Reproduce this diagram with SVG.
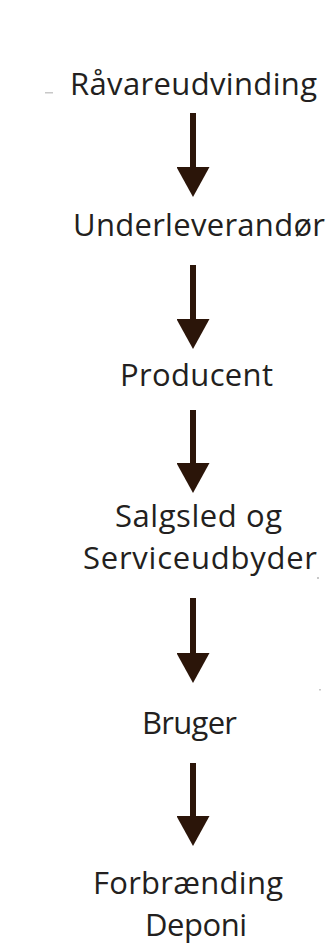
<svg xmlns="http://www.w3.org/2000/svg" width="334" height="947" viewBox="0 0 334 947">
<style>
.lbl{font-family:"Open Sans","Liberation Sans",sans-serif;font-size:31px;fill:#231f20;text-anchor:middle}
.conn{stroke:#2b1509;stroke-width:6;fill:none}
.spk{fill:#c8c8c8}
</style>
<defs>
<marker id="head" markerUnits="userSpaceOnUse" viewBox="0 -16.5 30 33" refX="0" refY="0" markerWidth="30" markerHeight="33" orient="auto">
<path d="M0,-16.5 L30,0 L0,16.5 Z" fill="#2b1509"/>
</marker>
</defs>
<rect width="334" height="947" fill="#ffffff"/>
<rect class="spk" x="45" y="92" width="8" height="1.5"/>
<rect class="spk" x="317" y="577" width="2" height="2"/>
<rect class="spk" x="319" y="689" width="2" height="1.5"/>
<g id="connectors">
<line class="conn" x1="193" y1="113" x2="193" y2="167" marker-end="url(#head)"/>
<line class="conn" x1="193" y1="265" x2="193" y2="319" marker-end="url(#head)"/>
<line class="conn" x1="193" y1="410" x2="193" y2="463" marker-end="url(#head)"/>
<line class="conn" x1="193" y1="598" x2="193" y2="653" marker-end="url(#head)"/>
<line class="conn" x1="193" y1="763" x2="193" y2="816" marker-end="url(#head)"/>
</g>
<g id="n1"><text class="lbl" x="193.5" y="95" textLength="247" lengthAdjust="spacing">Råvareudvinding</text></g>
<g id="n2"><text class="lbl" x="199" y="236" textLength="252" lengthAdjust="spacing">Underleverandør</text></g>
<g id="n3"><text class="lbl" x="196.5" y="386" textLength="153" lengthAdjust="spacing">Producent</text></g>
<g id="n4"><text class="lbl" x="198.5" y="527" textLength="167" lengthAdjust="spacing">Salgsled og</text><text class="lbl" x="200" y="569" textLength="234" lengthAdjust="spacing">Serviceudbyder</text></g>
<g id="n5"><text class="lbl" x="189.5" y="734" textLength="95" lengthAdjust="spacing">Bruger</text></g>
<g id="n6"><text class="lbl" x="188" y="894" textLength="190" lengthAdjust="spacing">Forbrænding</text><text class="lbl" x="196" y="936" textLength="102" lengthAdjust="spacing">Deponi</text></g>
</svg>
